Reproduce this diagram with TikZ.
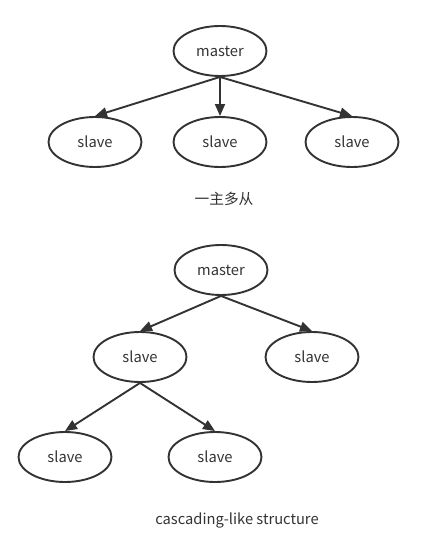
\documentclass[tikz,border=0pt]{standalone}
\usepackage{fontspec}
\newfontfamily\cjk{Noto Sans CJK SC}
\usetikzlibrary{shapes.geometric, arrows.meta}
\definecolor{ink}{HTML}{333333}

\begin{document}
\begin{tikzpicture}[
        x=1pt, y=-1pt,
        font=\cjk\fontsize{14.7}{17}\selectfont, text=ink,
        redis/.style={
            draw=ink, line width=1.9pt, ellipse,
            minimum width=93pt, minimum height=50pt, inner sep=0pt
        },
        link/.style={
            draw=ink, line width=1.9pt,
            -{Triangle[length=12pt, width=10pt]}
        }]
        \useasboundingbox (0,0) rectangle (422,549);
        % one master, many slaves
        \node[redis] (mA) at (220,51) {master};
        \node[redis] (sA1) at (95,142) {slave};
        \node[redis] (sA2) at (220,142) {slave};
        \node[redis] (sA3) at (352,142) {slave};
        \node (capA) at (224,199) {一主多从};
        \draw[link] (mA.south) -- (sA1.north);
        \draw[link] (mA.south) -- (sA2.north);
        \draw[link] (mA.south) -- (sA3.north);
        % cascade
        \node[redis] (mB) at (221,270) {master};
        \node[redis] (sB1) at (140,357) {slave};
        \node[redis] (sB2) at (312,357) {slave};
        \node[redis] (sB3) at (65,457) {slave};
        \node[redis] (sB4) at (215,457) {slave};
        \node (capB) at (237,520) {cascading-like structure};
        \draw[link] (mB.south) -- (sB1.north);
        \draw[link] (mB.south) -- (sB2.north);
        \draw[link] (sB1.south) -- (sB3.north);
        \draw[link] (sB1.south) -- (sB4.north);
    \end{tikzpicture}
\end{document}
